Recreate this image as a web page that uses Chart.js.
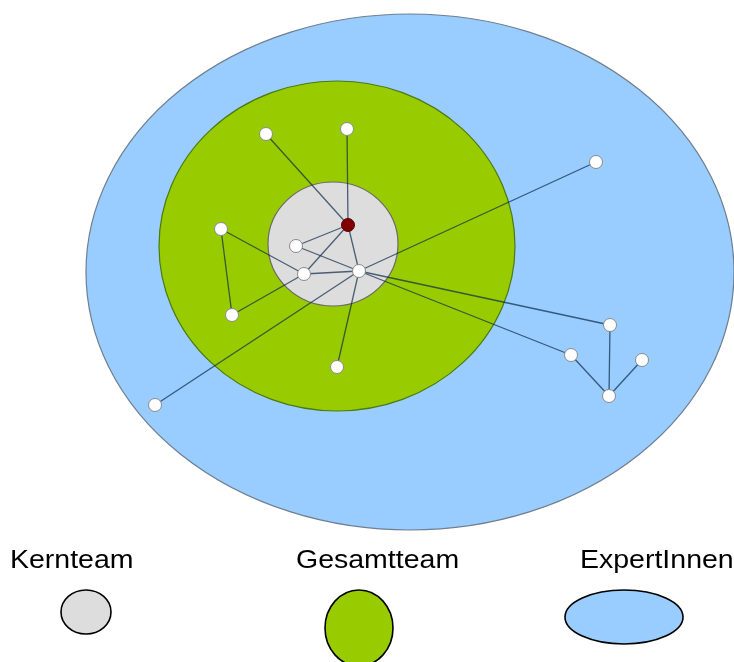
<!DOCTYPE html>
<html>
<head>
<meta charset="utf-8">
<script src="https://cdn.jsdelivr.net/npm/chart.js@4"></script>
<style>
  body { margin: 0; background: #fff; }
  #wrap { position: relative; width: 734px; height: 662px; overflow: hidden; }
  .lbl { position: absolute; font-family: "Liberation Sans", Arial, sans-serif; font-size: 25px; line-height: 25px; color: #000; white-space: nowrap; transform: scaleX(1.14); transform-origin: 0 0; }
</style>
</head>
<body>
<div id="wrap">
  <canvas id="netChart" width="734" height="662"></canvas>
  <div class="lbl" style="left:10px; top:547px;">Kernteam</div>
  <div class="lbl" style="left:296px; top:547px;">Gesamtteam</div>
  <div class="lbl" style="left:580px; top:547px;">ExpertInnen</div>
</div>
<script>
// zones (outer to inner), in plot units
const zoneNames = ['ExpertInnen', 'Gesamtteam', 'Kernteam'];
const zoneCx = [410, 337, 333];
const zoneCy = [272, 246, 244];
const zoneRx = [324, 178, 65];
const zoneRy = [258, 165, 62];

// legend symbols
const legendCx = [86, 359, 624];
const legendCy = [612, 628, 617];
const legendRx = [25, 34, 59];
const legendRy = [22, 38, 27];

// people (node 0 = the red one)
const nodeX = [348, 266, 347, 596, 221, 296, 304, 359, 232, 337, 610, 571, 642, 609, 155];
const nodeY = [225, 134, 129, 162, 229, 246, 274, 271, 315, 367, 325, 355, 360, 396, 405];

// links between people
const edgeFrom = [1, 2, 0, 0, 0, 3, 14, 4, 4, 8, 5, 6, 7, 7, 7, 10, 11, 12];
const edgeTo   = [0, 0, 5, 6, 7, 7, 7, 6, 8, 6, 7, 7, 9, 10, 11, 13, 13, 13];

var zoneFill = ['#99ccff', '#99cc00', '#dddddd'];
var zoneStroke = ['#6f7f8f', '#4a7a10', '#6a6a6a'];
var legendFill = ['#dddddd', '#99cc00', '#99ccff'];

function ellipse(ctx, x, y, rx, ry, fill, stroke, lw) {
    ctx.beginPath();
    ctx.ellipse(x, y, rx, ry, 0, 0, Math.PI * 2);
    ctx.fillStyle = fill;
    ctx.fill();
    ctx.lineWidth = lw;
    ctx.strokeStyle = stroke;
    ctx.stroke();
}

/* draws the zones and the legend symbols through the scales */
const zonePlugin = {
    id: 'zones',
    beforeDatasetsDraw(chart) {
        const ctx = chart.ctx;
        const xs = chart.scales.x, ys = chart.scales.y;
        ctx.save();
        for (let i = 0; i < zoneNames.length; i++) {
            const cx = xs.getPixelForValue(zoneCx[i]);
            const cy = ys.getPixelForValue(zoneCy[i]);
            const rx = Math.abs(xs.getPixelForValue(zoneCx[i] + zoneRx[i]) - cx);
            const ry = Math.abs(ys.getPixelForValue(zoneCy[i] + zoneRy[i]) - cy);
            ellipse(ctx, cx, cy, rx, ry, zoneFill[i], zoneStroke[i], 1.2);
        }
        for (let i = 0; i < legendCx.length; i++) {
            const cx = xs.getPixelForValue(legendCx[i]);
            const cy = ys.getPixelForValue(legendCy[i]);
            const rx = Math.abs(xs.getPixelForValue(legendCx[i] + legendRx[i]) - cx);
            const ry = Math.abs(ys.getPixelForValue(legendCy[i] + legendRy[i]) - cy);
            ellipse(ctx, cx, cy, rx, ry, legendFill[i], '#000', 1.6);
        }
        ctx.restore();
    }
};

var datasets = [];
datasets.push({
    label: 'Personen',
    data: nodeX.map((x, i) => ({ x: x, y: nodeY[i] })),
    pointRadius: 6.5,
    pointBackgroundColor: nodeX.map((x, i) => i === 0 ? '#800000' : '#ffffff'),
    pointBorderColor: nodeX.map((x, i) => i === 0 ? '#5a0000' : '#8a8a8a'),
    pointBorderWidth: 1,
    showLine: false,
    order: 0
});
for (let i = 0; i < edgeFrom.length; i++) {
    const a = edgeFrom[i], b = edgeTo[i];
    datasets.push({
        label: 'link' + i,
        data: [{ x: nodeX[a], y: nodeY[a] }, { x: nodeX[b], y: nodeY[b] }],
        showLine: true,
        borderColor: 'rgba(10, 40, 70, 0.7)',
        borderWidth: 1.3,
        pointRadius: 0,
        order: 1
    });
}

new Chart(document.getElementById('netChart'), {
    type: 'scatter',
    data: { datasets: datasets },
    options: {
        responsive: false,
        animation: false,
        devicePixelRatio: 1,
        layout: { padding: 0, autoPadding: false },
        plugins: { legend: { display: false }, tooltip: { enabled: false } },
        scales: {
            x: { type: 'linear', min: 0, max: 734, display: false },
            y: { type: 'linear', min: 0, max: 662, reverse: true, display: false }
        }
    },
    plugins: [zonePlugin]
});
</script>
</body>
</html>
